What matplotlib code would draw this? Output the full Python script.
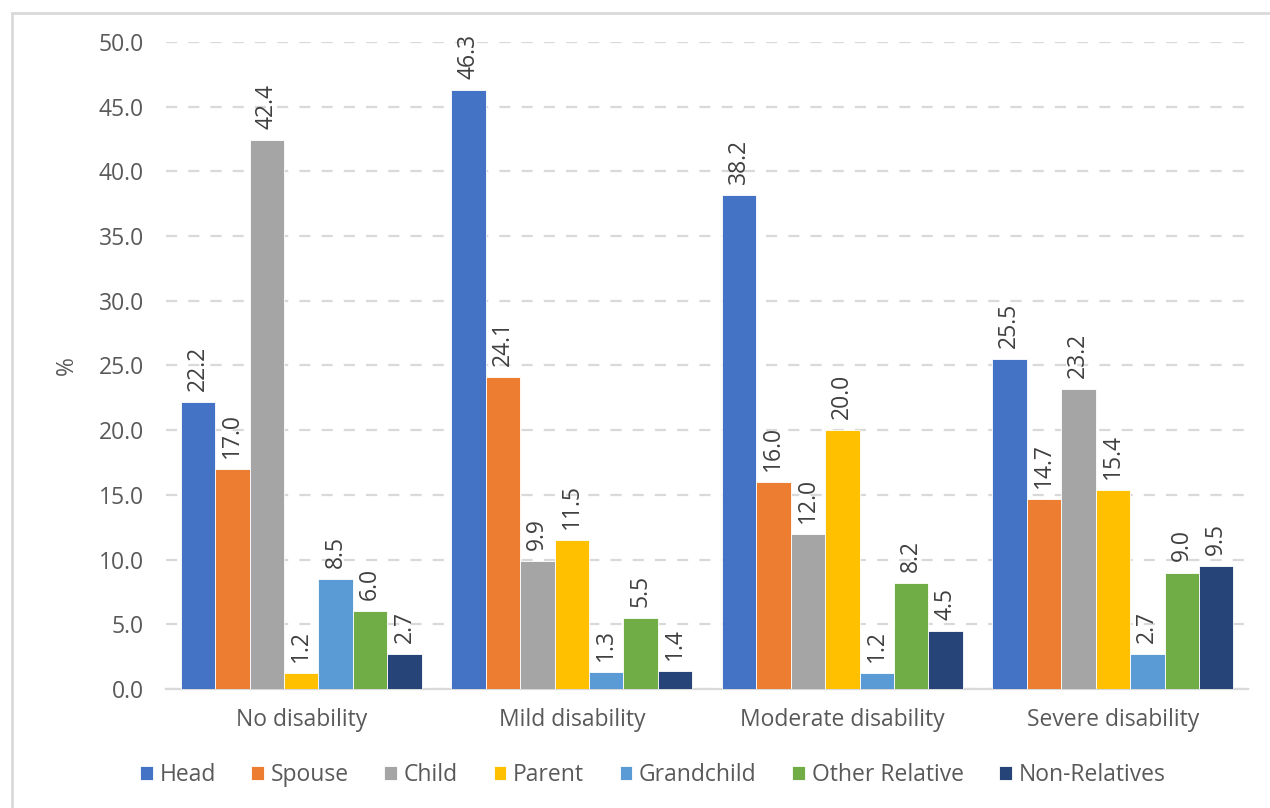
import matplotlib
matplotlib.use("Agg")
import matplotlib.pyplot as plt
from matplotlib.patches import Rectangle
import numpy as np

plt.rcParams["font.family"] = ["Open Sans", "DejaVu Sans"]

categories = ["No disability", "Mild disability", "Moderate disability", "Severe disability"]
series_names = ["Head", "Spouse", "Child", "Parent", "Grandchild", "Other Relative", "Non-Relatives"]
head = [22.2, 46.3, 38.2, 25.5]
spouse = [17.0, 24.1, 16.0, 14.7]
child = [42.4, 9.9, 12.0, 23.2]
parent = [1.2, 11.5, 20.0, 15.4]
grandchild = [8.5, 1.3, 1.2, 2.7]
other_relative = [6.0, 5.5, 8.2, 9.0]
non_relatives = [2.7, 1.4, 4.5, 9.5]
series_values = [head, spouse, child, parent, grandchild, other_relative, non_relatives]
colors = ["#4472C4", "#ED7D31", "#A5A5A5", "#FFC000", "#5B9BD5", "#70AD47", "#264478"]
yticks = [0, 5, 10, 15, 20, 25, 30, 35, 40, 45, 50]

text_gray = "#595959"
label_gray = "#404040"
fs = 16.5

fig = plt.figure(figsize=(12.7, 8.08), dpi=100)
ax = fig.add_axes([0.1307, 0.1473, 0.8520, 0.8007])

# chart area outline
fig.patches.append(Rectangle((12 / 1270, -0.01), 1.1, 1 - 13 / 808 + 0.01,
                             transform=fig.transFigure, fill=False,
                             edgecolor="#d9d9d9", linewidth=2.0))

x = np.arange(len(categories))
n = len(series_names)
bw = 0.1275
for i, (name, vals, c) in enumerate(zip(series_names, series_values, colors)):
    pos = x + (i - (n - 1) / 2) * bw
    bars = ax.bar(pos, vals, width=bw, color=c, edgecolor="white",
                  linewidth=0.6, label=name, zorder=3)
    for b, v in zip(bars, vals):
        ax.annotate(f"{v:.1f}", (b.get_x() + b.get_width() / 2, v),
                    xytext=(0, 8), textcoords="offset points",
                    rotation=90, ha="center", va="bottom",
                    fontsize=fs, color=label_gray)

ax.set_xlim(-0.5, len(categories) - 0.5)
ax.set_ylim(0, 50)
ax.set_yticks(yticks)
ax.set_yticklabels([f"{t:.1f}" for t in yticks])
ax.set_xticks(x)
ax.set_xticklabels(categories)
ax.tick_params(axis="both", length=0, labelsize=fs, labelcolor=text_gray)
ax.tick_params(axis="y", pad=16)
ax.tick_params(axis="x", pad=14)

ax.grid(axis="y", color="#d9d9d9", linestyle=(0, (5, 5)), linewidth=1.6, zorder=0)
for side in ["top", "right", "left"]:
    ax.spines[side].set_visible(False)
ax.spines["bottom"].set_color("#d9d9d9")
ax.spines["bottom"].set_linewidth(1.6)

ax.set_ylabel("%", fontsize=fs, color=text_gray, labelpad=14)

fig.legend(loc="center", bbox_to_anchor=(0.514, 1 - 775 / 808), ncol=7,
           frameon=False, fontsize=fs, labelcolor=text_gray,
           handlelength=0.55, handleheight=0.55, handletextpad=0.3,
           columnspacing=1.55)

fig.savefig("out.png", dpi=100)
